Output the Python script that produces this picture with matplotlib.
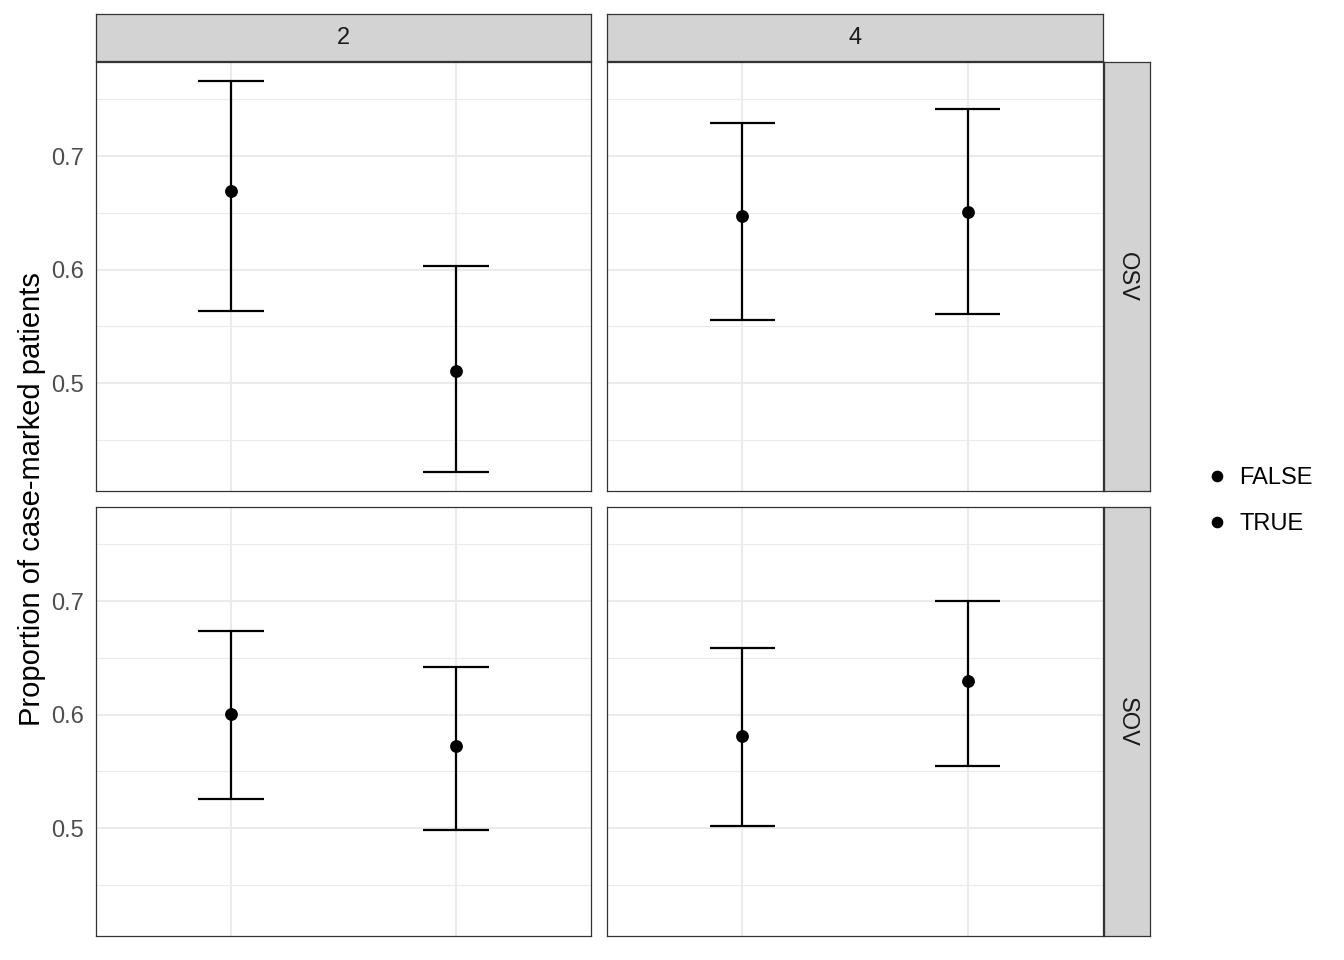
import matplotlib
matplotlib.use("Agg")
import matplotlib.pyplot as plt
import numpy as np

plt.rcParams['font.family'] = ['Liberation Sans', 'DejaVu Sans']

# facet levels
col_levels = ["2", "4"]
row_levels = ["OSV", "SOV"]
groups = ["FALSE", "TRUE"]

# estimates per panel, ordered (FALSE, TRUE)
mean_osv_2 = [0.669, 0.511]
low_osv_2 = [0.564, 0.422]
high_osv_2 = [0.766, 0.603]

mean_osv_4 = [0.647, 0.651]
low_osv_4 = [0.556, 0.561]
high_osv_4 = [0.729, 0.742]

mean_sov_2 = [0.601, 0.572]
low_sov_2 = [0.526, 0.498]
high_sov_2 = [0.674, 0.642]

mean_sov_4 = [0.581, 0.630]
low_sov_4 = [0.502, 0.555]
high_sov_4 = [0.659, 0.700]

panels = {
    ("OSV", "2"): (mean_osv_2, low_osv_2, high_osv_2),
    ("OSV", "4"): (mean_osv_4, low_osv_4, high_osv_4),
    ("SOV", "2"): (mean_sov_2, low_sov_2, high_sov_2),
    ("SOV", "4"): (mean_sov_4, low_sov_4, high_sov_4),
}

W, H = 1344, 960
fig = plt.figure(figsize=(W / 100, H / 100), dpi=100)


def px_axes(x0, y0, x1, y1):
    # pixel box (top-left origin) -> figure axes
    return fig.add_axes([x0 / W, 1 - y1 / H, (x1 - x0) / W, (y1 - y0) / H])


def strip(box, label, rot=0):
    sax = px_axes(*box)
    sax.set_facecolor(strip_fc)
    sax.set_xticks([])
    sax.set_yticks([])
    for sp in sax.spines.values():
        sp.set_color(border)
        sp.set_linewidth(0.9)
    sax.text(0.5, 0.5, label, ha="center", va="center", fontsize=small,
             color="#1A1A1A", rotation=rot, transform=sax.transAxes)


col_x = [(96, 591), (607, 1103)]
row_y = [(62, 491), (507, 936)]
border = "#333333"
strip_fc = "#D3D3D3"
ylim = (0.405, 0.783)
small = 17

handles = None
for ri, rl in enumerate(row_levels):
    for ci, cl in enumerate(col_levels):
        x0, x1 = col_x[ci]
        y0, y1 = row_y[ri]
        ax = px_axes(x0, y0, x1, y1)
        mean, low, high = panels[(rl, cl)]
        xs = np.arange(len(groups))

        ax.set_xlim(-0.6, len(groups) - 0.4)
        ax.set_ylim(*ylim)
        ax.set_yticks([0.5, 0.6, 0.7])
        ax.set_yticks([0.45, 0.55, 0.65, 0.75], minor=True)
        ax.set_xticks(xs)
        ax.grid(True, which="major", color="#EBEBEB", lw=1.5, zorder=0)
        ax.grid(True, which="minor", axis="y", color="#EBEBEB", lw=0.8, zorder=0)
        ax.tick_params(axis="both", which="both", length=0)
        ax.set_xticklabels([])
        if ci == 0:
            ax.tick_params(axis="y", labelsize=small, labelcolor="#4D4D4D", pad=9)
        else:
            ax.set_yticklabels([])
        for sp in ax.spines.values():
            sp.set_color(border)
            sp.set_linewidth(0.9)

        ax.vlines(xs, low, high, color="black", lw=1.6, zorder=3)
        ax.hlines(low, xs - 0.145, xs + 0.145, color="black", lw=1.6, zorder=3)
        ax.hlines(high, xs - 0.145, xs + 0.145, color="black", lw=1.6, zorder=3)
        hs = []
        for gi, g in enumerate(groups):
            h, = ax.plot(xs[gi], mean[gi], "o", color="black", ms=8.2, zorder=4, label=g)
            hs.append(h)
        handles = hs

        if ri == 0:
            strip((x0, 14, x1, 61), cl)
        if ci == len(col_levels) - 1:
            strip((1104, y0, 1150, y1), rl, rot=-90)

fig.text(32 / W, 1 - 499 / H, "Proportion of case-marked patients", rotation=90,
         ha="center", va="center", fontsize=21, color="black")

fig.legend(handles=handles, labels=groups, loc="center left",
           bbox_to_anchor=(1184 / W, 1 - 501 / H), frameon=False,
           fontsize=small, handletextpad=0.45, labelspacing=1.0,
           handlelength=1.0, markerscale=0.9)

fig.savefig("out.png", dpi=100)
